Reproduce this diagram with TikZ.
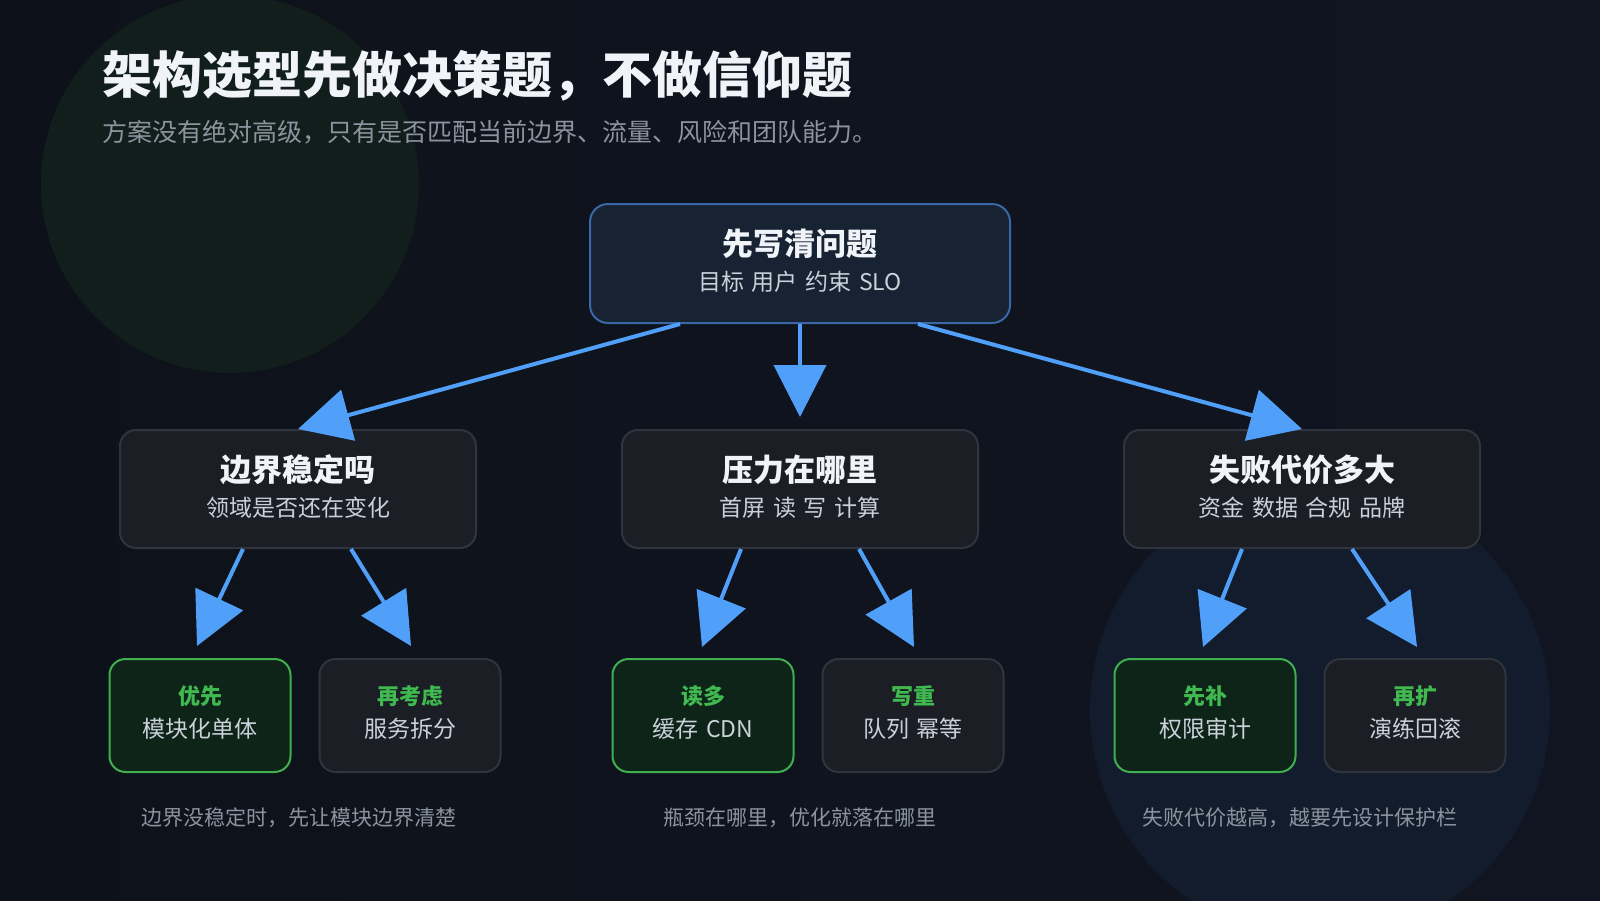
\documentclass[tikz,border=0pt]{standalone}
\usepackage{fontspec}
\setmainfont{Noto Sans CJK SC}
\usepackage{tikz}
\usetikzlibrary{arrows.meta,positioning,calc}
\definecolor{bgleft}{RGB}{13,18,26}
\definecolor{bgright}{RGB}{17,21,33}
\definecolor{greenglow}{RGB}{18,30,28}
\definecolor{blueglow}{RGB}{18,28,44}
\definecolor{topfill}{RGB}{23,34,51}
\definecolor{topedge}{RGB}{58,104,166}
\definecolor{boxfill}{RGB}{27,30,36}
\definecolor{boxedge}{RGB}{48,53,61}
\definecolor{greenfill}{RGB}{14,36,24}
\definecolor{greenedge}{RGB}{63,175,80}
\definecolor{greentext}{RGB}{63,185,80}
\definecolor{arrowblue}{RGB}{80,160,250}
\definecolor{headtext}{RGB}{240,244,248}
\definecolor{subtext}{RGB}{201,209,217}
\definecolor{mutedtext}{RGB}{139,148,158}
\newcommand{\boxhead}{\bfseries\fontsize{31}{34}\selectfont\color{headtext}}
\newcommand{\leafhead}{\bfseries\fontsize{22}{33}\selectfont\color{greentext}}
\newcommand{\widesp}{\spaceskip=0.33em\relax}
\newcommand{\liftrule}{\rule[-7pt]{0pt}{7pt}}
\tikzset{
  qbox/.style={
    draw=boxedge,
    fill=boxfill,
    line width=2pt,
    rounded corners=16pt,
    minimum width=356pt,
    minimum height=118pt,
    inner sep=0pt,
    align=center,
    text=subtext,
    font={\fontsize{23}{35}\selectfont\widesp}
  },
  topbox/.style={
    qbox,
    draw=topedge,
    fill=topfill,
    rounded corners=18pt,
    minimum width=420pt,
    minimum height=119pt
  },
  leaf/.style={
    qbox,
    minimum width=181pt,
    minimum height=113pt,
    font={\fontsize{23}{33}\selectfont\widesp}
  },
  goodleaf/.style={
    leaf,
    draw=greenedge,
    fill=greenfill
  },
  note/.style={
    text=mutedtext,
    inner sep=0pt,
    anchor=base,
    font=\fontsize{21}{21}\selectfont
  },
  line/.style={-{Triangle[length=52pt,width=52pt]}, line width=4pt, draw=arrowblue, fill=arrowblue}
}

\begin{document}
\begin{tikzpicture}[x=1pt,y=-1pt]
  \useasboundingbox (0,0) rectangle (1600,900);
  \clip (0,0) rectangle (1600,900);
  % background and glows
  \shade[left color=bgleft, right color=bgright] (0,0) rectangle (1600,900);
  \fill[greenglow] (230,184) circle[radius=189pt];
  \fill[blueglow] (1320,710) circle[radius=230pt];

  % heading
  \node[anchor=base west, inner sep=0pt, text=headtext, font=\bfseries\fontsize{50}{50}\selectfont] (title) at (102,93) {架构选型先做决策题，不做信仰题};
  \node[anchor=base west, inner sep=0pt, text=mutedtext, font=\fontsize{25}{25}\selectfont] (subtitle) at (102,141) {方案没有绝对高级，只有是否匹配当前边界、流量、风险和团队能力。};

  % question tree
  \node[topbox] (top) at (800,263.5) {{\boxhead 先写清问题}\\目标 用户 约束 SLO\liftrule};
  \node[qbox] (q1) at (298,489) {{\boxhead 边界稳定吗}\\领域是否还在变化\liftrule};
  \node[qbox] (q2) at (800,489) {{\boxhead 压力在哪里}\\首屏 读 写 计算\liftrule};
  \node[qbox] (q3) at (1302,489) {{\boxhead 失败代价多大}\\资金 数据 合规 品牌\liftrule};

  \node[goodleaf] (a1) at (200,715.5) {{\leafhead 优先}\\模块化单体\liftrule};
  \node[leaf] (b1) at (410,715.5) {{\leafhead 再考虑}\\服务拆分\liftrule};
  \node[goodleaf] (a2) at (703,715.5) {{\leafhead 读多}\\缓存 CDN\liftrule};
  \node[leaf] (b2) at (913,715.5) {{\leafhead 写重}\\队列 幂等\liftrule};
  \node[goodleaf] (a3) at (1205,715.5) {{\leafhead 先补}\\权限审计\liftrule};
  \node[leaf] (b3) at (1415,715.5) {{\leafhead 再扩}\\演练回滚\liftrule};

  \node[note] (c1) at (299,825) {边界没稳定时，先让模块边界清楚};
  \node[note] (c2) at (800,825) {瓶颈在哪里，优化就落在哪里};
  \node[note] (c3) at (1300,825) {失败代价越高，越要先设计保护栏};

  % arrows
  \draw[line] ($(top.south)+(-120,0)$) -- (q1.north);
  \draw[line, shorten >=12pt] (top.south) -- (q2.north);
  \draw[line] ($(top.south)+(118,0)$) -- (q3.north);

  \draw[line] ($(q1.south)+(-55,0)$) -- ($(a1.north)+(-3,-12)$);
  \draw[line] ($(q1.south)+(53,0)$) -- ($(b1.north)+(1,-12)$);
  \draw[line] ($(q2.south)+(-59,0)$) -- ($(a2.north)+(-1,-11)$);
  \draw[line] ($(q2.south)+(59,0)$) -- ($(b2.north)+(1,-11)$);
  \draw[line] ($(q3.south)+(-60,0)$) -- ($(a3.north)+(-2,-11)$);
  \draw[line] ($(q3.south)+(50,0)$) -- ($(b3.north)+(2,-11)$);
\end{tikzpicture}
\end{document}
